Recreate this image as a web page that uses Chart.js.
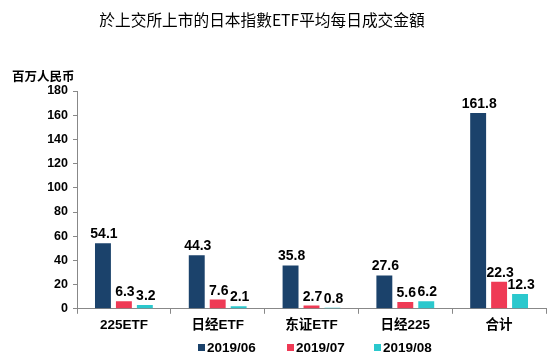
<!DOCTYPE html>
<html><head><meta charset="utf-8">
<script src="https://cdn.jsdelivr.net/npm/chart.js@4.4.1/dist/chart.umd.min.js"></script>
<style>html,body{margin:0;padding:0;background:#fff}#w{width:550px;height:358px}</style>
</head><body><div id="w"><canvas id="c" width="550" height="358"></canvas></div>
<script>
const categories = ["225ETF", "日经ETF", "东证ETF", "日经225", "合计"];
const jun = [54.1, 44.3, 35.8, 27.6, 161.8];
const jul = [6.3, 7.6, 2.7, 5.6, 22.3];
const aug = [3.2, 2.1, 0.8, 6.2, 12.3];
const seriesNames = ["2019/06", "2019/07", "2019/08"];
const yTicks = [0, 20, 40, 60, 80, 100, 120, 140, 160, 180];
const titleText = "於上交所上市的日本指數ETF平均每日成交金額";
const unitText = "百万人民币";

const FONT = "'Liberation Sans', Arial, 'Noto Sans CJK SC', sans-serif";
const colors = ["#1B426B", "#EF3A55", "#2BC8CD"];

const overlay = {
  id: 'overlay',
  afterDatasetsDraw(chart) {
    const ctx = chart.ctx;
    ctx.save();
    ctx.fillStyle = '#000';
    ctx.textAlign = 'center';
    ctx.textBaseline = 'alphabetic';
    ctx.font = "bold 14px " + FONT;
    chart.data.datasets.forEach((ds, i) => {
      const meta = chart.getDatasetMeta(i);
      meta.data.forEach((bar, j) => {
        ctx.fillText(ds.data[j].toFixed(1), bar.x + 1, bar.y - 5);
      });
    });
    ctx.font = "15.7px 'Noto Sans CJK SC', sans-serif";
    ctx.fillText(titleText, 262, 26);
    ctx.textAlign = 'left';
    ctx.font = "bold 12.5px 'Noto Sans CJK SC', sans-serif";
    ctx.fillText(unitText, 12, 81);
    // legend
    const lx = [198, 287, 374];
    ctx.font = "bold 13.5px " + FONT;
    ctx.textBaseline = 'middle';
    chart.data.datasets.forEach((ds, i) => {
      ctx.fillStyle = ds.backgroundColor;
      ctx.fillRect(lx[i], 344, 7, 7);
      ctx.fillStyle = '#000';
      ctx.fillText(ds.label, lx[i] + 9, 348);
    });
    ctx.restore();
  }
};

new Chart(document.getElementById('c'), {
  type: 'bar',
  data: {
    labels: categories,
    datasets: [jun, jul, aug].map((d, i) => ({
      label: seriesNames[i],
      data: d,
      backgroundColor: colors[i],
      borderWidth: 0,
      categoryPercentage: 0.67,
      barPercentage: 0.76
    }))
  },
  options: {
    responsive: false,
    animation: false,
    layout: { padding: { top: 91, right: 4, left: 0, bottom: 22 } },
    plugins: {
      tooltip: { enabled: false },
      title: { display: false },
      legend: { display: false }
    },
    scales: {
      x: {
        offset: true,
        grid: { display: true, offset: true, drawOnChartArea: false, drawTicks: true, tickLength: 5, color: '#888' },
        border: { color: '#888' },
        ticks: { color: '#000', padding: 3, font: { family: FONT, size: 13.5, weight: 'bold' } }
      },
      y: {
        min: 0, max: 180,
        afterBuildTicks(s) { s.ticks = yTicks.map(v => ({ value: v })); },
        afterFit(s) { s.width = 77; },
        grid: { display: true, drawOnChartArea: false, drawTicks: true, tickLength: 4, color: '#888' },
        border: { color: '#888' },
        ticks: { color: '#000', padding: 5, font: { family: FONT, size: 12.5, weight: 'bold' } }
      }
    }
  },
  plugins: [overlay]
});
</script></body></html>
